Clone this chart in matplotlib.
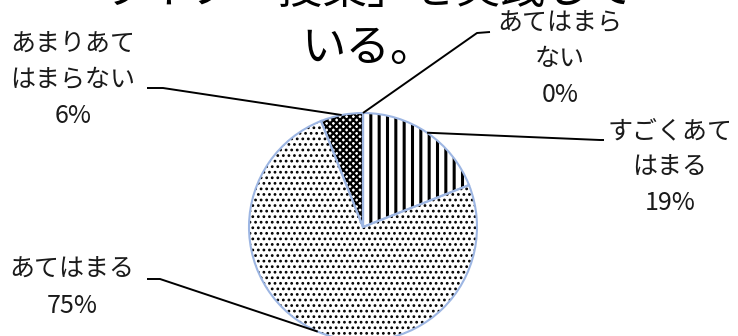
import numpy as np
import matplotlib.pyplot as plt

plt.rcParams['font.family'] = ['Noto Sans CJK JP', 'DejaVu Sans']
plt.rcParams['hatch.linewidth'] = 1.4

W, H = 738, 336

title = 'ライブ「授業」を実践して\nいる。'
categories = ['すごくあてはまる', 'あてはまる', 'あまりあてはまらない', 'あてはまらない']
percents = [19, 75, 6, 0]
hatches = ['||', '...', 'xxxxx', '']
hatch_lw = [2.2, 1.2, 1.6, 1.0]

# label centres and leader elbows, in pixels from the top left
label_pos = [(670, 167), (72, 288), (73, 80), (560, 59)]
elbows = [(600, 140), (160, 279), (163, 88), (477, 33)]
ends = [(604, 140), (147, 279), (147, 88), (490, 32)]


def hatch_width(artist, lw):
    # hatch linewidth is read from rcParams at draw time
    orig = artist.draw

    def draw(renderer):
        with plt.rc_context({'hatch.linewidth': lw}):
            orig(renderer)
    artist.draw = draw


fig = plt.figure(figsize=(W / 100, H / 100), dpi=100)
ax = fig.add_axes([0, 0, 1, 1])

cx, cy, r = 363, H - 227, 114
wedges, _ = ax.pie(percents, startangle=90, counterclock=False, center=(cx, cy), radius=r,
                   colors=['white'] * len(percents), hatch=hatches,
                   wedgeprops=dict(edgecolor='black', linewidth=0))
for w, lw in zip(wedges, hatch_lw):
    if hasattr(w, 'set_hatch_linewidth'):
        w.set_hatch_linewidth(lw)
    hatch_width(w, lw)
# outline on top
ax.pie(percents, startangle=90, counterclock=False, center=(cx, cy), radius=r,
       wedgeprops=dict(fill=False, edgecolor='#9db6e3', linewidth=1.5))

ax.set_xlim(0, W)
ax.set_ylim(0, H)
ax.set_aspect('auto')
ax.axis('off')

for w, name, p, (lx, ly), (ex, ey), (tx, ty) in zip(wedges, categories, percents, label_pos, elbows, ends):
    mid = np.deg2rad((w.theta1 + w.theta2) / 2)
    px, py = cx + r * np.cos(mid), cy + r * np.sin(mid)
    ax.plot([px, ex, tx], [py, H - ey, H - ty], color='black', lw=1.4, solid_capstyle='butt')
    wrapped = '\n'.join(name[i:i + 5] for i in range(0, len(name), 5))
    ax.text(lx, H - ly, wrapped + '\n' + f'{p}%', ha='center', va='center',
            fontsize=18, linespacing=1.5, color='#1a1a1a')

ax.text(368, H - 71, title, ha='center', va='bottom', fontsize=32, linespacing=1.32)

fig.savefig('out.png', dpi=100)
